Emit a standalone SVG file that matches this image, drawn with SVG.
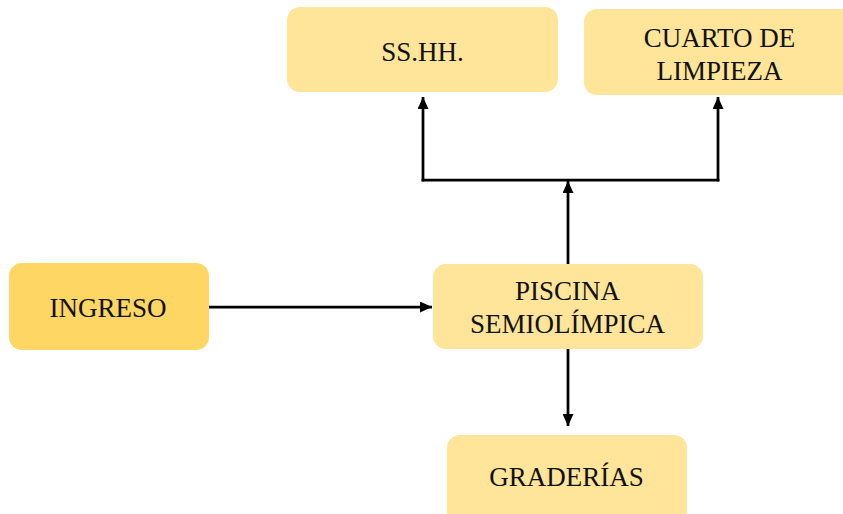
<svg xmlns="http://www.w3.org/2000/svg" width="843" height="514" viewBox="0 0 843 514">
<defs>
<style>
.box{fill:#FFE599;}
.box2{fill:#FDD663;}
.t{font-family:"Liberation Serif","Times New Roman",serif;font-size:27px;fill:#111;text-anchor:middle;}
.c{stroke:#000;stroke-width:2.75;fill:none;}
</style>
<marker id="ah" viewBox="0 0 12 11" refX="12" refY="5.5" markerWidth="12" markerHeight="11" markerUnits="userSpaceOnUse" orient="auto">
<path d="M0,0 L12,5.5 L0,11 z" fill="#000"/>
</marker>
</defs>
<rect width="843" height="514" fill="#fff"/>
<g id="connectors">
<line class="c" x1="209" y1="307" x2="432" y2="307" marker-end="url(#ah)"/>
<line class="c" x1="568" y1="264" x2="568" y2="181" marker-end="url(#ah)"/>
<line class="c" x1="421.6" y1="180" x2="719.4" y2="180"/>
<line class="c" x1="423" y1="181.4" x2="423" y2="97" marker-end="url(#ah)"/>
<line class="c" x1="718" y1="181.4" x2="718" y2="97" marker-end="url(#ah)"/>
<line class="c" x1="568" y1="349" x2="568" y2="426" marker-end="url(#ah)"/>
</g>
<g id="ingreso">
<rect class="box2" x="9" y="263" width="200" height="87" rx="13"/>
<text class="t" x="108" y="317">INGRESO</text>
</g>
<g id="sshh">
<rect class="box" x="287" y="7" width="271" height="85" rx="13"/>
<text class="t" x="422.5" y="61">SS.HH.</text>
</g>
<g id="cuarto">
<rect class="box" x="584" y="9" width="275" height="86" rx="13"/>
<text class="t" x="719.5" y="47">CUARTO DE</text>
<text class="t" x="719.5" y="79.5">LIMPIEZA</text>
</g>
<g id="piscina">
<rect class="box" x="433" y="264" width="270" height="85" rx="13"/>
<text class="t" x="567.5" y="300">PISCINA</text>
<text class="t" x="567.5" y="333">SEMIOLÍMPICA</text>
</g>
<g id="graderias">
<rect class="box" x="447" y="435" width="240" height="90" rx="13"/>
<text class="t" x="566.5" y="486">GRADERÍAS</text>
</g>
</svg>
